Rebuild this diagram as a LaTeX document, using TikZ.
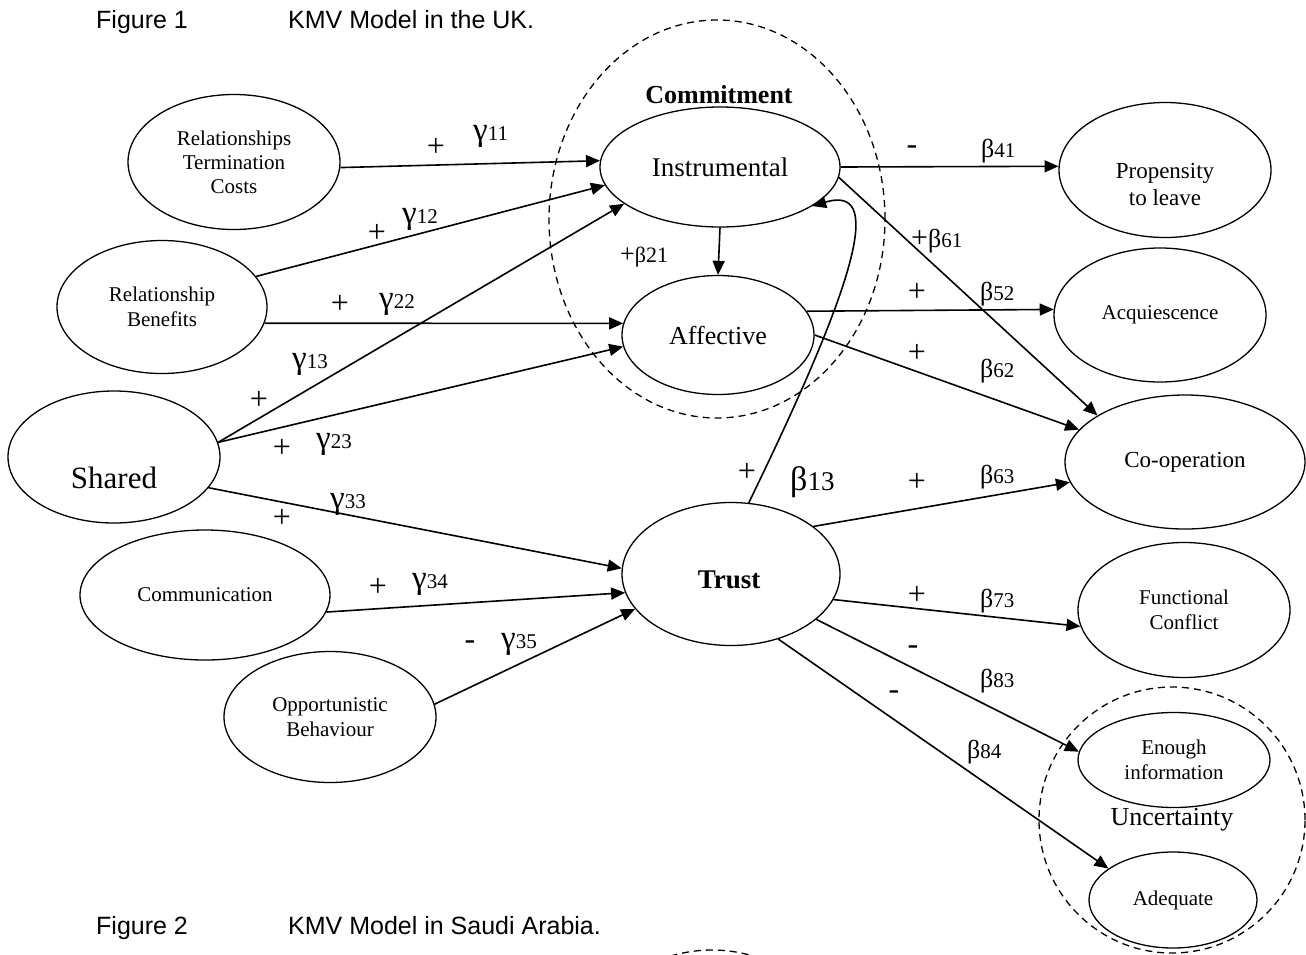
\documentclass[tikz,border=0pt]{standalone}
\usepackage{fontspec}
\setmainfont{Liberation Serif}
\newfontfamily\capfont{Liberation Sans}
\usetikzlibrary{shapes.geometric,arrows.meta}
\newcommand\fsz[2]{\fontsize{#1}{#2}\selectfont}
\newcommand\gk[1]{{\fsz{33}{33}γ}#1}
\newcommand\bk[1]{{\fsz{26}{26}β}#1}
\begin{document}
\begin{tikzpicture}[x=1pt,y=-1pt,
  ell/.style={draw, ellipse, line width=1.3pt, inner sep=0pt, align=center},
  grp/.style={draw, ellipse, dash pattern=on 7pt off 5pt, line width=1.3pt, inner sep=0pt},
  arr/.style={line width=1.6pt, -{Triangle[length=14pt,width=12pt]}},
  sg/.style={inner sep=0pt, font=\fsz{32}{32}},
  coef/.style={anchor=base west, inner sep=0pt, font=\fsz{21}{21}},
  captxt/.style={anchor=base west, inner sep=0pt, font=\capfont\fsz{25}{25}}
]
\fill[white] (0,0) rectangle (1306,954);
\useasboundingbox (0,0) rectangle (1306,954);

% captions
\node[captxt] (f1) at (96,28) {Figure 1};
\node[captxt] (f1t) at (288,28) {KMV Model in the UK.};
\node[captxt] (f2) at (96,934) {Figure 2};
\node[captxt] (f2t) at (288,934) {KMV Model in Saudi Arabia.};

% group ellipses
\node[grp, minimum width=336pt, minimum height=398pt] (commit) at (717,219) {};
\node[font=\bfseries\fsz{26}{26}] (committ) at (719,95) {Commitment};
\node[grp, minimum width=266pt, minimum height=266pt] (unc) at (1172,820) {};
\node[font=\fsz{26}{26}] (unct) at (1172,820) {Uncertainty};
\node[grp, minimum width=336pt, minimum height=398pt] (fig2grp) at (712,1149) {};

% left nodes
\node[ell, minimum width=212pt, minimum height=135pt, font=\fsz{21}{24}] (rtc) at (234,162) {Relationships\\Termination\\Costs};
\node[ell, minimum width=210pt, minimum height=133pt, font=\fsz{21}{25}] (rb) at (162,307) {Relationship\\Benefits};
\node[ell, minimum width=212pt, minimum height=132pt] (shared) at (114,457) {};
\node[font=\fsz{31}{31}] (sharedt) at (114,478) {Shared};
\node[ell, minimum width=250pt, minimum height=130pt, font=\fsz{21}{21}] (comm) at (205,595) {Communication};
\node[ell, minimum width=212pt, minimum height=131pt, font=\fsz{21}{25}] (opp) at (330,717) {Opportunistic\\Behaviour};

% middle nodes
\node[ell, minimum width=240pt, minimum height=120pt, font=\fsz{27}{27}] (instr) at (720,167) {Instrumental};
\node[ell, minimum width=192pt, minimum height=119pt, font=\fsz{26}{26}] (aff) at (718,335) {Affective};
\node[ell, minimum width=218pt, minimum height=143pt] (trust) at (731,574) {};
\node[font=\bfseries\fsz{27}{27}] (trustt) at (729,580) {Trust};

% right nodes
\node[ell, minimum width=212pt, minimum height=135pt] (prop) at (1165,170) {};
\node[font=\fsz{23}{27}, align=center] (propt) at (1165,184) {Propensity\\to leave};
\node[ell, minimum width=212pt, minimum height=134pt, font=\fsz{21}{21}] (acq) at (1160,315) {Acquiescence};
\node[ell, minimum width=240pt, minimum height=134pt, font=\fsz{23}{23}] (coop) at (1185,462) {Co-operation};
\node[ell, minimum width=212pt, minimum height=135pt, font=\fsz{21}{25}] (func) at (1184,610) {Functional\\Conflict};
\node[ell, minimum width=192pt, minimum height=95pt, font=\fsz{21}{25}] (enough) at (1174,760) {Enough\\information};
\node[ell, minimum width=168pt, minimum height=96pt, font=\fsz{21}{21}] (adeq) at (1173,900) {Adequate};

% connectors
\draw[arr] (rtc.-3) -- (instr.177);
\draw[arr] (rb.18) -- (instr.189);
\draw[arr] (rb.-9) -- (aff.173);
\draw[arr] (shared.8) -- (instr.201);
\draw[arr] (shared.8) -- (aff.187);
\draw[arr] (shared.-18) -- (trust.177);
\draw[arr] (comm.-8) -- (trust.190);
\draw[arr] (opp.7) -- (trust.200);
\draw[arr] (instr.south) -- (aff.north);
\draw[arr] (trust.76) .. controls (862,270) and (882,185) .. (instr.-23);
\draw[arr] (instr.0) -- (prop.178);
\draw[arr] (instr.-5) -- (coop.152);
\draw[arr] (aff.15) -- (acq.177);
\draw[arr] (aff.0) -- (coop.163);
\draw[arr] (trust.30) -- (coop.190);
\draw[arr] (trust.-14) -- (func.189);
\draw[arr] (trust.-28) -- (enough.175);
\draw[arr] (trust.-54) -- (adeq.154);

% signs
\node[sg] (s11) at (436,147) {+};
\node[sg] (s12) at (377,233) {+};
\node[sg] (s22) at (340,304) {+};
\node[sg] (s13) at (259,400) {+};
\node[sg] (s23) at (282,448) {+};
\node[sg] (s33) at (282,518) {+};
\node[sg] (s34) at (378,587) {+};
\node[sg] (s35) at (470,645) {-};
\node[sg] (sb13) at (747,472) {+};
\node[sg] (s41) at (912,150) {-};
\node[sg] (s52) at (917,292) {+};
\node[sg] (s62) at (917,353) {+};
\node[sg] (s63) at (917,482) {+};
\node[sg] (s73) at (917,595) {+};
\node[sg] (s83) at (913,650) {-};
\node[sg] (s84) at (894,695) {-};

% coefficients
\node[coef] (g11) at (473,140) {\gk{11}};
\node[coef] (g12) at (402,223) {\gk{12}};
\node[coef] (g22) at (379,308) {\gk{22}};
\node[coef] (g13) at (292,368) {\gk{13}};
\node[coef] (g23) at (316,448) {\gk{23}};
\node[coef] (g33) at (330,508) {\gk{33}};
\node[coef] (g34) at (412,588) {\gk{34}};
\node[coef] (g35) at (501,648) {\gk{35}};
\node[coef] (b13) at (790,490) {{\fsz{34}{34}β}{\fsz{27}{27}13}};
\node[coef] (b41) at (981,157) {\bk{41}};
\node[coef] (b61) at (911,247) {{\fsz{30}{30}+}\bk{61}};
\node[coef] (b52) at (980,300) {\bk{52}};
\node[coef] (b62) at (980,377) {\bk{62}};
\node[coef] (b63) at (980,483) {\bk{63}};
\node[coef] (b73) at (980,607) {\bk{73}};
\node[coef] (b83) at (980,687) {\bk{83}};
\node[coef] (b84) at (967,758) {\bk{84}};
\node[coef, font=\fsz{22}{22}] (b21) at (620,262) {{\fsz{26}{26}+}β21};
\end{tikzpicture}
\end{document}
